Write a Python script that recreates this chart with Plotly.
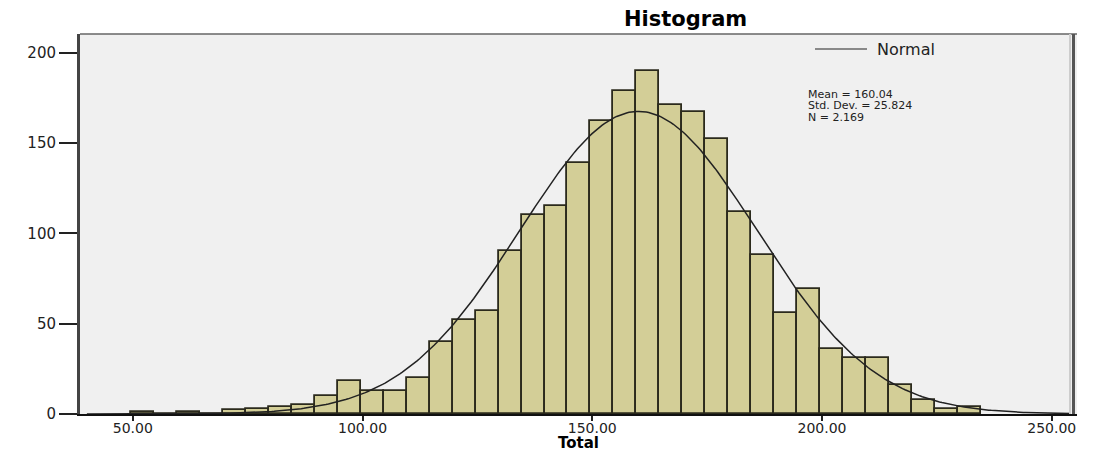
import numpy as np
import plotly.graph_objects as go

# ---- data ----
bin_lower = [49.6, 54.6, 59.6, 64.6, 69.6, 74.6, 79.6, 84.6, 89.6, 94.6,
             99.6, 104.6, 109.6, 114.6, 119.6, 124.6, 129.6, 134.6, 139.6, 144.6,
             149.6, 154.6, 159.6, 164.6, 169.6, 174.6, 179.6, 184.6, 189.6, 194.6,
             199.6, 204.6, 209.6, 214.6, 219.6, 224.6, 229.6]
counts = [1, 0, 1, 0, 2, 3, 4, 5, 10, 18,
          13, 13, 20, 40, 52, 57, 90, 110, 115, 139,
          162, 179, 190, 171, 167, 152, 112, 88, 56, 69,
          36, 31, 31, 16, 8, 3, 4]
bin_width = 5.0
mean_val = 160.04
std_val = 25.824
n_val = 2169
x_ticks = [50, 100, 150, 200, 250]
y_ticks = [0, 50, 100, 150, 200]

centers = [b + bin_width / 2 for b in bin_lower]

# normal curve from stated parameters
xc = np.linspace(40, 254, 400)
yc = n_val * bin_width / (std_val * np.sqrt(2 * np.pi)) * np.exp(-0.5 * ((xc - mean_val) / std_val) ** 2)

FONT = "DejaVu Sans"

fig = go.Figure()
fig.add_trace(go.Bar(
    x=centers, y=counts, width=bin_width,
    marker=dict(color="#D3CE97", line=dict(color="#2b2a1c", width=1.8)),
    showlegend=False,
))
fig.add_trace(go.Scatter(
    x=xc, y=yc, mode="lines", name="Normal",
    line=dict(color="#222222", width=1.5), showlegend=False,
))

fig.update_layout(
    width=1087, height=445,
    margin=dict(l=72, r=18, t=26, b=39),
    paper_bgcolor="white", plot_bgcolor="#F0F0F0",
    bargap=0,
    xaxis=dict(range=[38.5, 255.5], tickvals=x_ticks, tickformat=".2f",
               showgrid=False, zeroline=False, showline=True,
               linecolor="#111111", linewidth=1.5,
               ticks="outside", ticklen=5, tickwidth=2, tickcolor="#222222",
               ticklabelstandoff=-5,
               tickfont=dict(family=FONT, size=14, color="#222222")),
    yaxis=dict(range=[0, 210.4], tickvals=y_ticks,
               showgrid=False, zeroline=False, showline=True,
               linecolor="#444444", linewidth=3,
               ticks="outside", ticklen=18, tickwidth=1.5, tickcolor="#222222",
               tickfont=dict(family=FONT, size=15, color="#222222")),
    font=dict(family=FONT),
)

# frame: top and right borders
fig.add_shape(type="line", xref="paper", yref="paper", x0=0, x1=1, y0=1, y1=1,
              line=dict(color="#666666", width=1.5))
fig.add_shape(type="line", xref="paper", yref="paper", x0=0.9965, x1=0.9965, y0=0, y1=1,
              line=dict(color="#555555", width=3))
fig.add_shape(type="line", xref="paper", yref="paper", x0=0.993, x1=0.993, y0=0, y1=1,
              line=dict(color="#CCCCCC", width=2))

# legend-like key
fig.add_shape(type="line", xref="paper", yref="paper",
              x0=(815 - 80) / 997, x1=(867 - 80) / 997,
              y0=(414 - 49) / 380, y1=(414 - 49) / 380,
              line=dict(color="#222222", width=1.2))
fig.add_annotation(text="Normal", xref="paper", yref="paper",
                   x=(875 - 80) / 997, y=(414 - 49) / 380, xanchor="left", yanchor="middle",
                   showarrow=False, font=dict(family=FONT, size=16, color="#222222"))

# statistics text
stats = [f"Mean = {mean_val:.2f}", f"Std. Dev. = {std_val:.3f}", f"N = {n_val // 1000}.{n_val % 1000:03d}"]
for i, s in enumerate(stats):
    fig.add_annotation(text=s, xref="paper", yref="paper",
                       x=(806 - 80) / 997, y=(414 - (94 + 11.5 * i)) / 380,
                       xanchor="left", yanchor="middle", showarrow=False,
                       font=dict(family=FONT, size=11, color="#222222"))

# title and x-axis label
fig.add_annotation(text="<b>Histogram</b>", xref="paper", yref="paper",
                   x=(685 - 80) / 997, y=(414 - 19) / 380, xanchor="center", yanchor="middle",
                   showarrow=False, font=dict(family=FONT, size=21, color="#000000"))
fig.add_annotation(text="<b>Total</b>", xref="paper", yref="paper",
                   x=0.5, y=(414 - 443) / 380, xanchor="center", yanchor="middle",
                   showarrow=False, font=dict(family=FONT, size=15, color="#000000"))

fig.write_html("out.html")
